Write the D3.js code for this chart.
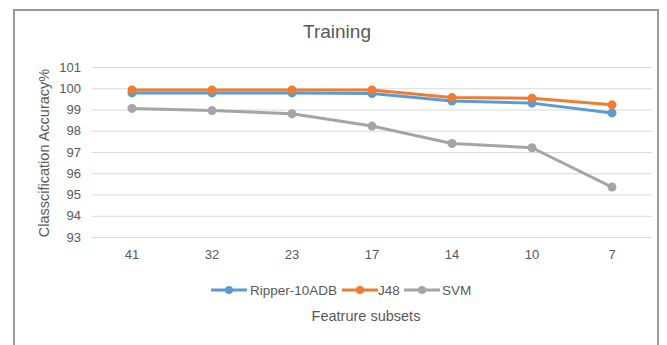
<!DOCTYPE html>
<html>
<head>
<meta charset="utf-8">
<script src="https://cdn.jsdelivr.net/npm/d3@7"></script>
<style>
  html, body { margin: 0; padding: 0; background: #fff; }
  svg { display: block; }
  text { font-family: "Liberation Sans", "Noto Sans", sans-serif; fill: #595959; }
</style>
</head>
<body>
<svg id="chart" width="667" height="345"></svg>
<script>
// Feature subset sizes along the x axis
const subsets = ["41", "32", "23", "17", "14", "10", "7"];

// Classification accuracy (%) per classifier
const ripper = [99.78, 99.78, 99.78, 99.75, 99.40, 99.30, 98.84];
const j48    = [99.92, 99.92, 99.92, 99.92, 99.56, 99.53, 99.22];
const svm    = [99.05, 98.95, 98.80, 98.22, 97.40, 97.20, 95.35];

const seriesNames = ["Ripper-10ADB", "J48", "SVM"];
const seriesColors = ["#5B9BD5", "#ED7D31", "#A5A5A5"];
const yTicks = [93, 94, 95, 96, 97, 98, 99, 100, 101];

const series = [ripper, j48, svm].map((values, i) => ({
  name: seriesNames[i], color: seriesColors[i], values
}));

const svg = d3.select("#chart");

// Outer frame
svg.append("rect")
  .attr("x", 14).attr("y", 10)
  .attr("width", 644).attr("height", 360)
  .attr("fill", "none").attr("stroke", "#999").attr("stroke-width", 2);

const plot = { left: 92, right: 652, top: 67, bottom: 237 };

const x = d3.scaleBand().domain(subsets).range([plot.left, plot.right]);
const y = d3.scaleLinear().domain([93, 101]).range([plot.bottom, plot.top]);

// Horizontal gridlines with value labels
const yAxis = d3.axisLeft(y).tickValues(yTicks).tickSize(-(plot.right - plot.left)).tickPadding(11);
const gy = svg.append("g").attr("transform", `translate(${plot.left},0)`).call(yAxis);
gy.select(".domain").remove();
gy.selectAll(".tick line").attr("stroke", "#D9D9D9").attr("stroke-width", 1);
gy.selectAll(".tick text").style("font-size", "13px").attr("fill", "#595959");

// Category labels
const xAxis = d3.axisBottom(x).tickSize(0).tickPadding(13);
const gx = svg.append("g").attr("transform", `translate(0,${plot.bottom})`).call(xAxis);
gx.select(".domain").remove();
gx.selectAll(".tick text").style("font-size", "13px").attr("fill", "#595959");

// Lines and markers
const line = d3.line()
  .x((d, i) => x(subsets[i]) + x.bandwidth() / 2)
  .y(d => y(d));

series.forEach(s => {
  svg.append("path")
    .datum(s.values)
    .attr("d", line)
    .attr("fill", "none")
    .attr("stroke", s.color)
    .attr("stroke-width", 3)
    .attr("stroke-linejoin", "round");
  svg.selectAll(null)
    .data(s.values)
    .join("circle")
    .attr("cx", (d, i) => x(subsets[i]) + x.bandwidth() / 2)
    .attr("cy", d => y(d))
    .attr("r", 4.5)
    .attr("fill", s.color);
});

// Title
svg.append("text")
  .attr("x", 337).attr("y", 38)
  .attr("text-anchor", "middle")
  .style("font-size", "19px")
  .text("Training");

// Axis titles
svg.append("text")
  .attr("transform", `translate(49,${(plot.top + plot.bottom) / 2 + 1}) rotate(-90)`)
  .attr("text-anchor", "middle")
  .style("font-size", "14.5px")
  .text("Classcification Accuracy%");

svg.append("text")
  .attr("x", 366).attr("y", 320.5)
  .attr("text-anchor", "middle")
  .style("font-size", "14.5px")
  .text("Featrure subsets");

// Legend
const legendItems = [
  { x: 211, textX: 250 },
  { x: 342, textX: 378 },
  { x: 404, textX: 442 }
];
const legend = svg.append("g");
series.forEach((s, i) => {
  const lx = legendItems[i].x;
  legend.append("line")
    .attr("x1", lx).attr("x2", lx + 36)
    .attr("y1", 290).attr("y2", 290)
    .attr("stroke", s.color).attr("stroke-width", 3);
  legend.append("circle")
    .attr("cx", lx + 18).attr("cy", 290).attr("r", 4)
    .attr("fill", s.color);
  legend.append("text")
    .attr("x", legendItems[i].textX).attr("y", 295)
    .style("font-size", "13.5px")
    .text(s.name);
});
</script>
</body>
</html>
